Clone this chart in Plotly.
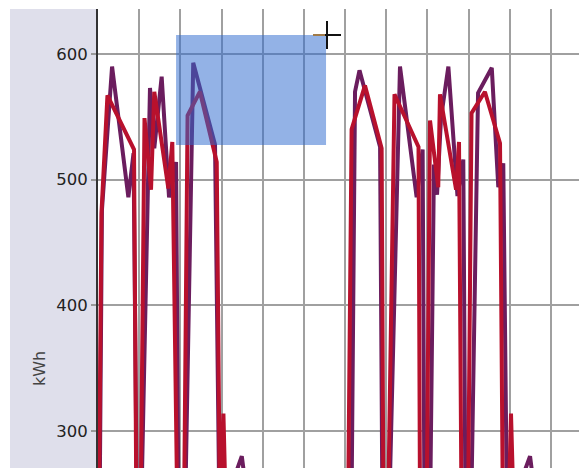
import plotly.graph_objects as go

# Hourly energy use, two meters (hours from start of window, kWh)
hours_a = [-1.2, 0.9, 2.3, 8.2, 17.7, 20.7, 22.7, 25.1, 30.3, 32.8, 37.1, 41.4, 45.5, 46.9,
           50.7, 55.5, 68.2, 70.8, 83.8, 88.6, 147.7, 149.8, 152.4, 164.4, 165.8, 169.6,
           176.0, 185.7, 189.2, 190.3, 193.5, 195.8, 197.6, 199.9, 204.2, 209.5, 212.9,
           214.2, 217.4, 221.5, 229.5, 233.3, 236.2, 238.4, 251.8, 256.4, 290.0]
kwh_a = [230, 230, 476, 590, 486, 521, 230, 230, 573, 525, 582, 486, 514, 230,
         230, 593, 528, 230, 280, 230, 230, 570, 587, 526, 230, 230,
         590, 486, 524, 230, 230, 512, 488, 549, 590, 487, 516,
         230, 230, 569, 589, 494, 513, 230, 280, 230, 230]

hours_b = [-1.2, 0.5, 2.0, 5.5, 21.0, 22.4, 24.8, 27.1, 30.9, 32.8, 41.0, 43.3, 46.3, 50.1,
           52.2, 59.4, 69.2, 71.1, 73.1, 74.6, 145.7, 147.8, 155.6, 165.3, 166.4, 169.0,
           172.8, 186.8, 187.7, 191.5, 193.5, 198.3, 199.3, 208.7, 210.4, 211.9, 215.6,
           217.7, 225.5, 234.3, 236.0, 239.2, 240.7, 242.4, 290.0]
kwh_b = [230, 230, 473, 567, 524, 230, 230, 549, 492, 570, 493, 530, 230, 230,
         551, 570, 514, 230, 314, 230, 230, 540, 575, 525, 230, 230,
         568, 526, 230, 230, 547, 494, 568, 492, 530, 230, 230,
         553, 570, 529, 230, 230, 314, 230, 230]

y_ticks = [300, 400, 500, 600]
y_label = "kWh"

# Current selection box (hours, kWh)
sel_hours = [45.5, 132.9]
sel_kwh = [527.6, 615.1]

PURPLE = "#6b1d5e"
RED = "#b8112d"
GRID = "#a0a0a0"

fig = go.Figure()
fig.add_trace(go.Scatter(x=hours_a, y=kwh_a, mode="lines",
                         line=dict(color=PURPLE, width=4), showlegend=False))
fig.add_trace(go.Scatter(x=hours_b, y=kwh_b, mode="lines",
                         line=dict(color=RED, width=4), showlegend=False))

W, H = 579, 468
ML, MT = 98, 9
pw, ph = W - ML, H - MT


def px(x):
    return (x - ML) / pw


def py(y):
    return (H - y) / ph


shapes = [
    # shaded axis panel on the left
    dict(type="rect", xref="paper", yref="paper", x0=px(10), x1=px(97), y0=0, y1=1,
         fillcolor="#dfdfeb", line=dict(width=0), layer="below"),
    # selection box
    dict(type="rect", xref="x", yref="y", x0=sel_hours[0], x1=sel_hours[1],
         y0=sel_kwh[0], y1=sel_kwh[1], fillcolor="rgb(47,107,207)", opacity=0.52,
         line=dict(width=0), layer="above"),
    # crosshair pointer
    dict(type="line", xref="paper", yref="paper", x0=px(313), x1=px(325),
         y0=py(35), y1=py(35), line=dict(color="#a07a48", width=2)),
    dict(type="line", xref="paper", yref="paper", x0=px(325), x1=px(341),
         y0=py(35), y1=py(35), line=dict(color="#111111", width=2)),
    dict(type="line", xref="paper", yref="paper", x0=px(327), x1=px(327),
         y0=py(21), y1=py(49), line=dict(color="#111111", width=2)),
]

fig.update_layout(
    width=W, height=H,
    margin=dict(l=ML, r=0, t=MT, b=0, pad=0),
    paper_bgcolor="white",
    plot_bgcolor="white",
    font=dict(family="DejaVu Sans, Verdana, sans-serif", color="#222"),
    shapes=shapes,
    annotations=[dict(text=y_label, xref="paper", yref="paper", x=px(39), y=py(369),
                      textangle=-90, showarrow=False, xanchor="center", yanchor="middle",
                      font=dict(size=16, color="#444"))],
    xaxis=dict(range=[0, 481 / 41.18 * 24], tick0=0, dtick=24, showgrid=True,
               gridcolor=GRID, gridwidth=2, showticklabels=False, ticks="",
               zeroline=False, showline=False, fixedrange=True),
    yaxis=dict(range=[270.6, 635.8], tickvals=y_ticks, showgrid=True,
               gridcolor=GRID, gridwidth=2, ticks="outside", ticklen=5,
               tickcolor="#999", tickwidth=1.5, tickfont=dict(size=16.5, color="#222"),
               showline=True, linecolor="#333", linewidth=2, zeroline=False,
               fixedrange=True),
)

fig.write_html("out.html", config={"displayModeBar": False})
